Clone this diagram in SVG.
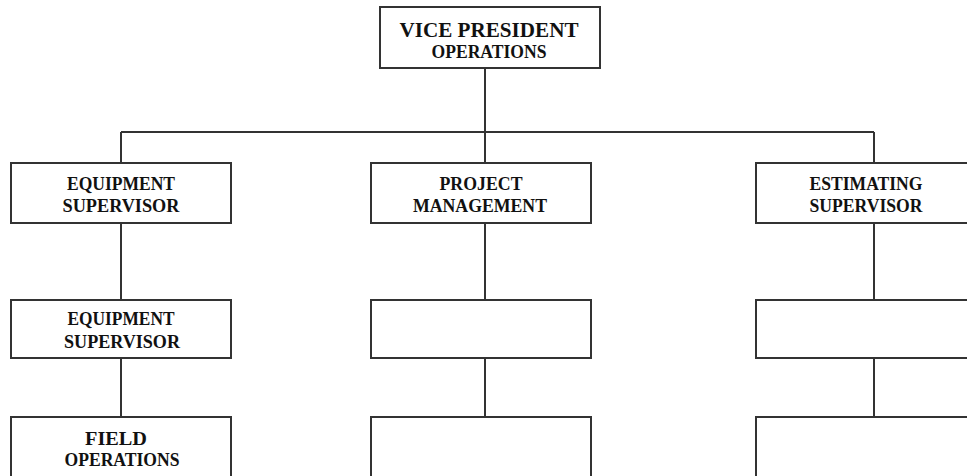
<svg xmlns="http://www.w3.org/2000/svg" width="967" height="476" viewBox="0 0 967 476">
<style>
.box{fill:#fff;stroke:#333;stroke-width:2}
.ln{stroke:#333;stroke-width:2;fill:none}
text{font-family:"Liberation Serif","Times New Roman",serif;font-weight:bold;fill:#111;text-anchor:middle}
.t{font-size:19px}
.big{font-size:22px}
</style>
<rect width="967" height="476" fill="#fff"/>
<g id="connectors">
<path class="ln" d="M485 68V132M121 132H874M121 132V163M485 132V163M874 132V163"/>
<path class="ln" d="M121 223V300M485 223V300M874 223V300"/>
<path class="ln" d="M121 358V417M485 358V417M874 358V417"/>
</g>
<g id="vp">
<rect class="box" x="380" y="7" width="220" height="61"/>
<text class="big" x="489" y="37" textLength="179" lengthAdjust="spacingAndGlyphs">VICE PRESIDENT</text>
<text class="t" x="489" y="58" textLength="115" lengthAdjust="spacingAndGlyphs">OPERATIONS</text>
</g>
<g id="equip1">
<rect class="box" x="11" y="163" width="220" height="60"/>
<text class="t" x="121" y="190" textLength="108" lengthAdjust="spacingAndGlyphs">EQUIPMENT</text>
<text class="t" x="121" y="212" textLength="117" lengthAdjust="spacingAndGlyphs">SUPERVISOR</text>
</g>
<g id="pm">
<rect class="box" x="371" y="163" width="220" height="60"/>
<text class="t" x="481" y="190" textLength="83" lengthAdjust="spacingAndGlyphs">PROJECT</text>
<text class="t" x="480" y="212" textLength="134" lengthAdjust="spacingAndGlyphs">MANAGEMENT</text>
</g>
<g id="est">
<rect class="box" x="756" y="163" width="220" height="60"/>
<text class="t" x="866" y="190" textLength="113" lengthAdjust="spacingAndGlyphs">ESTIMATING</text>
<text class="t" x="866" y="212" textLength="113" lengthAdjust="spacingAndGlyphs">SUPERVISOR</text>
</g>
<g id="equip2">
<rect class="box" x="11" y="300" width="220" height="58"/>
<text class="t" x="121" y="325" textLength="107" lengthAdjust="spacingAndGlyphs">EQUIPMENT</text>
<text class="t" x="122" y="348" textLength="116" lengthAdjust="spacingAndGlyphs">SUPERVISOR</text>
</g>
<g id="mid2">
<rect class="box" x="371" y="300" width="220" height="58"/>
</g>
<g id="right2">
<rect class="box" x="756" y="300" width="220" height="58"/>
</g>
<g id="field">
<rect class="box" x="11" y="417" width="220" height="70"/>
<text class="t" x="116" y="445" textLength="62" lengthAdjust="spacingAndGlyphs">FIELD</text>
<text class="t" x="122" y="466" textLength="115" lengthAdjust="spacingAndGlyphs">OPERATIONS</text>
</g>
<g id="mid3">
<rect class="box" x="371" y="417" width="220" height="70"/>
</g>
<g id="right3">
<rect class="box" x="756" y="417" width="220" height="70"/>
</g>
</svg>
